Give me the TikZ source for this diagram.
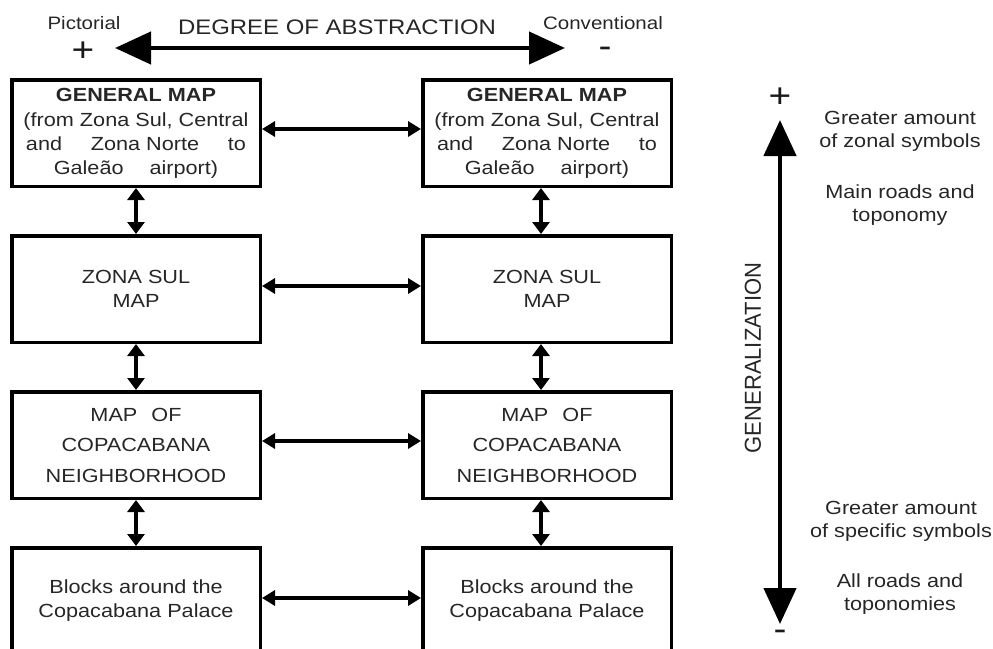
\documentclass[tikz,border=0pt]{standalone}
\usepackage{fontspec}
\setmainfont{Liberation Sans}[FakeStretch=1.14]
\newfontfamily\uprightfont{Liberation Sans}
\usetikzlibrary{arrows.meta, positioning}

\begin{document}
\begin{tikzpicture}[
        x=1pt, y=-1pt,
        node distance=46pt and 159pt,
        mapbox/.style={
            rectangle,
            draw=black,
            line width=3.5pt,
            minimum width=248.5pt,
            minimum height=106.5pt,
            inner sep=0pt,
            align=center,
            text=black!85,
            font=\fontsize{19}{24}\selectfont
        },
        sidetext/.style={
            align=center,
            text=black!85,
            font=\fontsize{19}{23}\selectfont
        },
        signtext/.style={
            inner sep=0pt,
            text=black!90,
            font=\fontsize{34}{34}\selectfont
        },
        hbiarrow/.style={{Triangle[length=13pt,width=15pt]}-{Triangle[length=13pt,width=15pt]}, line width=4pt},
        vbiarrow/.style={{Triangle[length=12pt,width=17pt]}-{Triangle[length=12pt,width=17pt]}, line width=4pt},
        bigarrow/.style={{Triangle[length=36pt,width=32pt]}-{Triangle[length=36pt,width=32pt]}, line width=4.5pt}
    ]

    \useasboundingbox (0,0) rectangle (993,648);

    % pictorial column
    \node (gen1) [mapbox] at (136,133) {{\bfseries GENERAL MAP}\\[1pt]
        (from Zona Sul, Central\\
        \makebox[220pt]{and\hfill Zona Norte\hfill to}\\
        Galeão\hspace{26pt}airport)};
    \node (zona1) [mapbox, below=of gen1] {ZONA SUL\\MAP};
    \node (copa1) [mapbox, below=of zona1, font=\fontsize{19}{30.5}\selectfont] {MAP\hspace{14pt}OF\\COPACABANA\\NEIGHBORHOOD};
    \node (block1) [mapbox, below=of copa1] {Blocks around the\\Copacabana Palace};

    % conventional column
    \node (gen2) [mapbox, right=of gen1] {{\bfseries GENERAL MAP}\\[1pt]
        (from Zona Sul, Central\\
        \makebox[220pt]{and\hfill Zona Norte\hfill to}\\
        Galeão\hspace{26pt}airport)};
    \node (zona2) [mapbox, right=of zona1] {ZONA SUL\\MAP};
    \node (copa2) [mapbox, right=of copa1, font=\fontsize{19}{30.5}\selectfont] {MAP\hspace{14pt}OF\\COPACABANA\\NEIGHBORHOOD};
    \node (block2) [mapbox, right=of block1] {Blocks around the\\Copacabana Palace};

    % between columns
    \draw [hbiarrow] ([yshift=4pt]gen1.east) -- ([yshift=4pt]gen2.west);
    \draw [hbiarrow] ([yshift=3pt]zona1.east) -- ([yshift=3pt]zona2.west);
    \draw [hbiarrow] ([yshift=4pt]copa1.east) -- ([yshift=4pt]copa2.west);
    \draw [hbiarrow] ([yshift=3pt]block1.east) -- ([yshift=3pt]block2.west);

    % within columns
    \draw [vbiarrow] (gen1) -- (zona1);
    \draw [vbiarrow] (zona1) -- (copa1);
    \draw [vbiarrow] (copa1) -- (block1);
    \draw [vbiarrow] ([xshift=-6pt]gen2.south) -- ([xshift=-6pt]zona2.north);
    \draw [vbiarrow] ([xshift=-6pt]zona2.south) -- ([xshift=-6pt]copa2.north);
    \draw [vbiarrow] ([xshift=-6pt]copa2.south) -- ([xshift=-6pt]block2.north);

    % degree of abstraction
    \node (abstraction) [sidetext, font=\fontsize{21}{24}\selectfont] at (337,27) {DEGREE OF ABSTRACTION};
    \node (pictorial) [sidetext, font=\fontsize{18}{20}\selectfont] at (84,23) {Pictorial};
    \node (conventional) [sidetext, font=\fontsize{18}{20}\selectfont] at (603,23) {Conventional};
    \node (pictplus) [signtext] at (83,52) {+};
    \node (convminus) [signtext] at (605,52) {-};
    \coordinate (absleft) at (115,48);
    \coordinate (absright) at (565,48);
    \draw [bigarrow] (absleft) -- (absright);

    % generalization
    \node (genplus) [signtext] at (780,98) {+};
    \node (genminus) [signtext] at (780,635) {-};
    \coordinate (gentop) at (780,120);
    \coordinate (genbottom) at (780,624);
    \draw [bigarrow] (gentop) -- (genbottom);
    \node (generalization) [rotate=90, yscale=1.05, text=black!85, font=\uprightfont\fontsize{22}{24}\selectfont] at (753,358) {GENERALIZATION};

    \node (zonal) [sidetext] at (900,131) {Greater amount\\of zonal symbols};
    \node (mainroads) [sidetext] at (900,205) {Main roads and\\toponomy};
    \node (specific) [sidetext] at (901,521) {Greater amount\\of specific symbols};
    \node (allroads) [sidetext] at (900,594) {All roads and\\toponomies};

\end{tikzpicture}
\end{document}
